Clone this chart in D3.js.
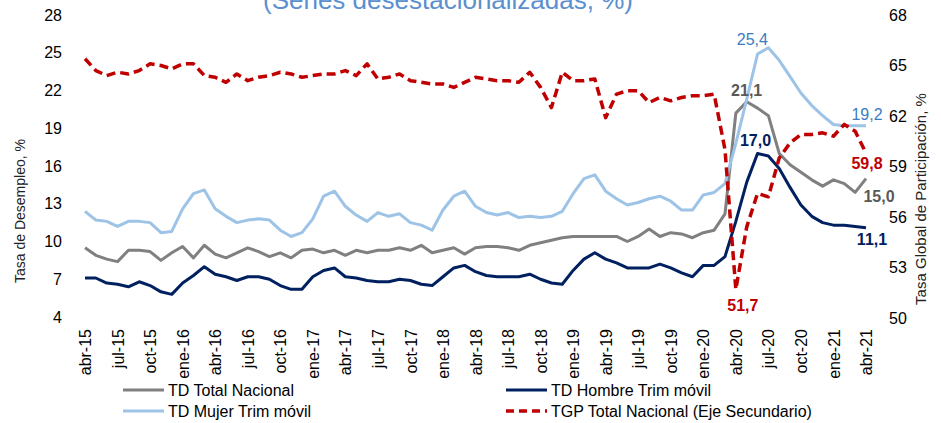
<!DOCTYPE html>
<html>
<head>
<meta charset="utf-8">
<script src="https://cdn.jsdelivr.net/npm/d3@7"></script>
<style>
  body { margin: 0; background: #fff; }
  text { font-family: Arial, "Liberation Sans", sans-serif; }
</style>
</head>
<body>
<div id="chart"></div>
<script>

var months = [
    "abr-15","may-15","jun-15","jul-15","ago-15","sep-15","oct-15","nov-15","dic-15",
    "ene-16","feb-16","mar-16","abr-16","may-16","jun-16","jul-16","ago-16","sep-16","oct-16","nov-16","dic-16",
    "ene-17","feb-17","mar-17","abr-17","may-17","jun-17","jul-17","ago-17","sep-17","oct-17","nov-17","dic-17",
    "ene-18","feb-18","mar-18","abr-18","may-18","jun-18","jul-18","ago-18","sep-18","oct-18","nov-18","dic-18",
    "ene-19","feb-19","mar-19","abr-19","may-19","jun-19","jul-19","ago-19","sep-19","oct-19","nov-19","dic-19",
    "ene-20","feb-20","mar-20","abr-20","may-20","jun-20","jul-20","ago-20","sep-20","oct-20","nov-20","dic-20",
    "ene-21","feb-21","mar-21","abr-21"
];

var tickLabels = [
    "abr-15","jul-15","oct-15","ene-16","abr-16","jul-16","oct-16","ene-17","abr-17",
    "jul-17","oct-17","ene-18","abr-18","jul-18","oct-18","ene-19","abr-19","jul-19",
    "oct-19","ene-20","abr-20","jul-20","oct-20","ene-21","abr-21"
];

var leftTicks = [4, 7, 10, 13, 16, 19, 22, 25, 28];
var rightTicks = [50, 53, 56, 59, 62, 65, 68];

// TD Total Nacional
var tdTotal = [
    9.5, 8.9, 8.6, 8.4, 9.3, 9.3, 9.2, 8.5, 9.1, 9.6,
    8.7, 9.7, 9.0, 8.7, 9.1, 9.5, 9.2, 8.8, 9.1, 8.7,
    9.3, 9.4, 9.1, 9.3, 8.9, 9.3, 9.1, 9.3, 9.3, 9.5,
    9.3, 9.7, 9.1, 9.3, 9.5, 9.0, 9.5, 9.6, 9.6, 9.5,
    9.3, 9.7, 9.9, 10.1, 10.3, 10.4, 10.4, 10.4, 10.4, 10.4,
    10.0, 10.4, 11.0, 10.4, 10.7, 10.6, 10.3, 10.7, 10.9, 12.2,
    20.2, 21.1, 20.6, 20.0, 17.0, 16.1, 15.5, 14.9, 14.4, 14.9,
    14.6, 13.9, 15.0
];

// TD Hombre Trim movil
var tdHombre = [
    7.1, 7.1, 6.7, 6.6, 6.4, 6.8, 6.5, 6.0, 5.8, 6.7,
    7.3, 8.0, 7.4, 7.2, 6.9, 7.2, 7.2, 7.0, 6.5, 6.2,
    6.2, 7.2, 7.7, 7.9, 7.2, 7.1, 6.9, 6.8, 6.8, 7.0,
    6.9, 6.6, 6.5, 7.2, 7.9, 8.1, 7.6, 7.3, 7.2, 7.2,
    7.2, 7.4, 7.0, 6.7, 6.6, 7.7, 8.6, 9.1, 8.6, 8.3,
    7.9, 7.9, 7.9, 8.2, 7.9, 7.5, 7.2, 8.1, 8.1, 8.8,
    11.6, 14.7, 17.0, 16.8, 15.8, 14.3, 12.9, 12.0, 11.5, 11.3,
    11.3, 11.2, 11.1
];

// TD Mujer Trim movil
var tdMujer = [
    12.4, 11.7, 11.6, 11.2, 11.6, 11.6, 11.5, 10.7, 10.8, 12.6,
    13.8, 14.1, 12.6, 12.0, 11.5, 11.7, 11.8, 11.7, 10.9, 10.4,
    10.7, 11.8, 13.6, 14.0, 12.8, 12.1, 11.6, 12.3, 12.0, 12.2,
    11.5, 11.3, 10.9, 12.5, 13.6, 14.0, 12.8, 12.3, 12.1, 12.3,
    11.9, 12.0, 11.9, 12.0, 12.4, 13.8, 15.0, 15.3, 14.0, 13.4,
    12.9, 13.1, 13.4, 13.6, 13.2, 12.5, 12.5, 13.7, 13.9, 14.6,
    17.8, 21.3, 24.9, 25.4, 24.4, 23.1, 21.8, 20.8, 20.0, 19.3,
    19.2, 19.2, 19.2
];

// TGP Total Nacional (eje secundario)
var tgpTotal = [
    65.4, 64.7, 64.4, 64.6, 64.5, 64.7, 65.1, 65.0, 64.8, 65.1,
    65.1, 64.4, 64.3, 64.0, 64.5, 64.1, 64.3, 64.4, 64.6, 64.5,
    64.3, 64.4, 64.5, 64.5, 64.7, 64.4, 65.1, 64.2, 64.3, 64.5,
    64.1, 64.0, 63.9, 63.9, 63.7, 64.0, 64.3, 64.2, 64.1, 64.1,
    64.0, 64.6, 63.7, 62.5, 64.6, 64.1, 64.1, 64.2, 61.9, 63.3,
    63.5, 63.5, 62.8, 63.1, 62.9, 63.1, 63.2, 63.2, 63.3, 60.0,
    51.7, 55.4, 57.4, 57.2, 59.5, 60.4, 60.9, 60.9, 61.0, 60.8,
    61.5, 61.1, 59.8
];

var width = 941;
var height = 423;

var svg = d3.select("#chart").append("svg")
    .attr("width", width)
    .attr("height", height);

/* Scales */
var x = d3.scalePoint().domain(months).range([85, 866]);
var yLeft = d3.scaleLinear().domain([4, 28]).range([317, 15]);
var yRight = d3.scaleLinear().domain([50, 68]).range([318, 15]);

var fmt = v => d3.format(".1f")(v).replace(".", ",");

/* Title (only its lower part shows) */
svg.append("text")
    .attr("x", 448)
    .attr("y", 8.5)
    .attr("text-anchor", "middle")
    .style("font-size", "26px")
    .style("fill", "#5b8fd0")
    .text("(Series desestacionalizadas, %)");

/* Axes */
var gLeft = svg.append("g")
    .attr("transform", "translate(62,0)")
    .call(d3.axisLeft(yLeft).tickValues(leftTicks).tickSize(0).tickPadding(0));

var gRight = svg.append("g")
    .attr("transform", "translate(889,0)")
    .call(d3.axisRight(yRight).tickValues(rightTicks).tickSize(0).tickPadding(0));

var gX = svg.append("g")
    .attr("transform", "translate(0,329)")
    .call(d3.axisBottom(x).tickValues(tickLabels).tickSize(0).tickPadding(0));

gX.selectAll("text")
    .attr("x", 0)
    .attr("y", 0)
    .attr("dy", "0.35em")
    .attr("transform", "rotate(-90)")
    .style("text-anchor", "end");

[gLeft, gRight, gX].forEach(function(g) {
    g.select(".domain").remove();
    g.selectAll("text")
        .style("font-size", "16px")
        .style("font-family", "Arial, 'Liberation Sans', sans-serif")
        .style("fill", "#000");
});

svg.append("text")
    .attr("transform", "translate(20.5,211) rotate(-90)")
    .attr("dy", "0.35em")
    .attr("text-anchor", "middle")
    .style("font-size", "14px")
    .style("fill", "#222")
    .text("Tasa de Desempleo, %");

svg.append("text")
    .attr("transform", "translate(921,199) rotate(-90)")
    .attr("dy", "0.35em")
    .attr("text-anchor", "middle")
    .style("font-size", "15px")
    .style("fill", "#222")
    .text("Tasa Global de Participación, %");

/* Lines */
var series = [
    {name: "TD Total Nacional", values: tdTotal, y: yLeft, color: "#808080", width: 3, dash: null},
    {name: "TD Hombre Trim móvil", values: tdHombre, y: yLeft, color: "#002060", width: 3, dash: null},
    {name: "TD Mujer Trim móvil", values: tdMujer, y: yLeft, color: "#9dc3e6", width: 3, dash: null},
    {name: "TGP Total Nacional (Eje Secundario)", values: tgpTotal, y: yRight, color: "#c00000", width: 3.5, dash: "9,5"}
];

svg.append("g").selectAll("path")
    .data(series).enter()
    .append("path")
    .attr("d", s => d3.line()
        .x((d, i) => x(months[i]))
        .y(d => s.y(d))(s.values))
    .style("fill", "none")
    .style("stroke", s => s.color)
    .style("stroke-width", s => s.width)
    .style("stroke-dasharray", s => s.dash)
    .style("stroke-linejoin", "round");

/* Data labels */
var labels = [
    {values: tdMujer, y: yLeft, i: 63, dx: -16, dy: -3, color: "#3a7dc4", bold: false},
    {values: tdTotal, y: yLeft, i: 61, dx: 0, dy: -6, color: "#595959", bold: true},
    {values: tdHombre, y: yLeft, i: 62, dx: -2, dy: -7, color: "#002060", bold: true},
    {values: tdMujer, y: yLeft, i: 72, dx: 1, dy: -6, color: "#3a7dc4", bold: false},
    {values: tgpTotal, y: yRight, i: 72, dx: 1, dy: 16, color: "#c00000", bold: true},
    {values: tdTotal, y: yLeft, i: 72, dx: 13, dy: 23, color: "#595959", bold: true},
    {values: tdHombre, y: yLeft, i: 72, dx: 6, dy: 17, color: "#002060", bold: true},
    {values: tgpTotal, y: yRight, i: 60, dx: 7, dy: 22, color: "#c00000", bold: true}
];

svg.append("g").selectAll("text")
    .data(labels).enter()
    .append("text")
    .attr("x", d => x(months[d.i]) + d.dx)
    .attr("y", d => d.y(d.values[d.i]) + d.dy)
    .attr("text-anchor", "middle")
    .style("font-size", "16px")
    .style("font-weight", d => d.bold ? "bold" : "normal")
    .style("fill", d => d.color)
    .text(d => fmt(d.values[d.i]));

/* Legend */
var legendPos = [[123, 390], [506, 390], [123, 411], [506, 411]];
var legendOrder = [0, 1, 2, 3];

var legend = svg.append("g").selectAll("g")
    .data(legendOrder).enter()
    .append("g")
    .attr("transform", (d, i) => `translate(${legendPos[i][0]}, ${legendPos[i][1]})`);

legend.append("line")
    .attr("x1", 0).attr("x2", 41)
    .attr("y1", 0).attr("y2", 0)
    .style("stroke", d => series[d].color)
    .style("stroke-width", d => series[d].width)
    .style("stroke-dasharray", d => series[d].dash ? "8,5" : null);

legend.append("text")
    .attr("x", 45)
    .attr("y", 0)
    .attr("dy", "0.35em")
    .style("font-size", "16px")
    .style("fill", "#000")
    .text(d => series[d].name);

</script>
</body>
</html>
